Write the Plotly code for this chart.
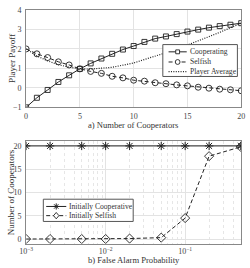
import plotly.graph_objects as go

n_coop = list(range(0, 21))
cooperating = [-1.0, -0.51, -0.11, 0.30, 0.64, 0.97, 1.25, 1.50, 1.74, 1.96, 2.14,
               2.35, 2.52, 2.63, 2.75, 2.88, 2.98, 3.08, 3.16, 3.23, 3.31]
selfish = [1.99, 1.74, 1.55, 1.33, 1.17, 0.97, 0.84, 0.74, 0.59, 0.51, 0.39,
           0.34, 0.26, 0.21, 0.15, 0.10, 0.03, -0.02, -0.07, -0.10, -0.15]
player_avg = [1.99, 1.63, 1.38, 1.18, 1.06, 0.97, 0.96, 1.01, 1.05, 1.16, 1.27,
              1.45, 1.62, 1.78, 1.97, 2.19, 2.39, 2.62, 2.84, 3.06, 3.31]

pfa = [0.001, 0.002, 0.005, 0.01, 0.02, 0.05, 0.1, 0.2, 0.5]
init_coop = [20, 20, 20, 20, 20, 20, 20, 20, 20]
init_selfish = [0, 0, 0, 0, 0.1, 0.3, 4.5, 17.8, 19.8]

legend_a = ["Cooperating", "Selfish", "Player Average"]
legend_b = ["Initially Cooperative", "Initially Selfish"]

FONT = "Liberation Serif"
LC = "#222222"
GRID = "#e3e3e3"
TXT = "#333333"
W, H = 250, 268
DASH = "4px,2.5px"
DOT = "1px,1.4px"


def px(x):
    return x / W


def py(y):
    return 1 - y / H


fig = go.Figure()
fig.add_trace(go.Scatter(x=n_coop, y=cooperating, name=legend_a[0], mode="lines+markers",
                         line=dict(color=LC, width=1, dash="solid"),
                         marker=dict(symbol="square-open", size=5, color=LC, line=dict(width=0.9)),
                         xaxis="x", yaxis="y"))
fig.add_trace(go.Scatter(x=n_coop, y=selfish, name=legend_a[1], mode="lines+markers",
                         line=dict(color=LC, width=1, dash=DASH),
                         marker=dict(symbol="circle-open", size=6, color=LC, line=dict(width=0.9)),
                         xaxis="x", yaxis="y"))
fig.add_trace(go.Scatter(x=n_coop, y=player_avg, name=legend_a[2], mode="lines",
                         line=dict(color=LC, width=1.2, dash=DOT),
                         xaxis="x", yaxis="y"))
fig.add_trace(go.Scatter(x=pfa, y=init_coop, name=legend_b[0], mode="lines+markers",
                         line=dict(color=LC, width=1, dash="solid"),
                         marker=dict(symbol="asterisk-open", size=7, color=LC, line=dict(width=1, color=LC)),
                         xaxis="x2", yaxis="y2"))
fig.add_trace(go.Scatter(x=pfa, y=init_selfish, name=legend_b[1], mode="lines+markers",
                         line=dict(color=LC, width=1, dash=DASH),
                         marker=dict(symbol="diamond-open", size=7, color=LC, line=dict(width=0.9)),
                         xaxis="x2", yaxis="y2"))

axcommon = dict(showline=True, linecolor="#888888", linewidth=1, mirror=True,
                gridcolor=GRID, gridwidth=1, zeroline=False, ticks="",
                tickfont=dict(family=FONT, size=8, color="#444444"))

fig.update_layout(
    width=W, height=H, margin=dict(l=0, r=0, t=0, b=0),
    paper_bgcolor="white", plot_bgcolor="white",
    font=dict(family=FONT, size=8, color=TXT),
    showlegend=False,
    xaxis=dict(domain=[0.08, 0.98], range=[0, 20], tickvals=[0, 5, 10, 15, 20],
               anchor="y", ticklabelstandoff=1, **axcommon),
    yaxis=dict(domain=[0.601, 0.978], range=[-1, 4], tickvals=[-1, 0, 1, 2, 3, 4],
               anchor="x", ticklabelstandoff=2, **axcommon),
    xaxis2=dict(domain=[0.08, 0.98], type="log", range=[-3, -0.295],
                tickvals=[0.001, 0.01, 0.1],
                ticktext=["10<sup>−3</sup>", "10<sup>−2</sup>", "10<sup>−1</sup>"],
                minor=dict(showgrid=True, gridcolor="#e6e6e6", griddash="dot",
                           tickvals=[0.002, 0.003, 0.004, 0.005, 0.006, 0.007, 0.008, 0.009,
                                     0.02, 0.03, 0.04, 0.05, 0.06, 0.07, 0.08, 0.09,
                                     0.2, 0.3, 0.4]),
                anchor="y2", ticklabelstandoff=0, **axcommon),
    yaxis2=dict(domain=[0.0746, 0.470], range=[-1, 21], tickvals=[0, 5, 10, 15, 20],
                anchor="x2", ticklabelstandoff=2, **axcommon),
)

shapes = []
annots = []


def legend_box(x0, y0, x1, y1):
    shapes.append(dict(type="rect", xref="paper", yref="paper", x0=px(x0), x1=px(x1),
                       y0=py(y0), y1=py(y1), fillcolor="white",
                       line=dict(color="#555555", width=1)))


def legend_line(x0, x1, y, dash, width=1):
    shapes.append(dict(type="line", xref="paper", yref="paper", x0=px(x0), x1=px(x1),
                       y0=py(y), y1=py(y), line=dict(color=LC, width=width, dash=dash)))


def legend_text(x, y, text):
    annots.append(dict(text=text, x=px(x), y=py(y), xref="paper", yref="paper",
                       xanchor="left", yanchor="middle", showarrow=False,
                       font=dict(family=FONT, size=7.6, color=TXT)))


def mk_square(x, y, r=2):
    shapes.append(dict(type="rect", xref="paper", yref="paper", x0=px(x - r), x1=px(x + r),
                       y0=py(y + r), y1=py(y - r), fillcolor="white",
                       line=dict(color=LC, width=0.9)))


def mk_circle(x, y, r=2.5):
    shapes.append(dict(type="circle", xref="paper", yref="paper", x0=px(x - r), x1=px(x + r),
                       y0=py(y + r), y1=py(y - r), fillcolor="white",
                       line=dict(color=LC, width=0.9)))


def mk_diamond(x, y, r=3.3):
    path = "M{},{} L{},{} L{},{} L{},{} Z".format(
        px(x), py(y - r), px(x + r * 0.85), py(y), px(x), py(y + r), px(x - r * 0.85), py(y))
    shapes.append(dict(type="path", xref="paper", yref="paper", path=path, fillcolor="white",
                       line=dict(color=LC, width=0.9)))


def mk_asterisk(x, y, r=3.2):
    d = r * 0.707
    for (ax, ay, bx, by) in [(x - r, y, x + r, y), (x, y - r, x, y + r),
                             (x - d, y - d, x + d, y + d), (x - d, y + d, x + d, y - d)]:
        shapes.append(dict(type="line", xref="paper", yref="paper", x0=px(ax), x1=px(bx),
                           y0=py(ay), y1=py(by), line=dict(color=LC, width=1)))


# legend a
legend_box(163, 42, 241, 75)
ya = [49.5, 60, 70]
legend_line(169, 188, ya[0], "solid")
mk_square(178.5, ya[0])
legend_line(169, 188, ya[1], DASH)
mk_circle(178.5, ya[1])
legend_line(169, 188, ya[2], DOT, 1.2)
for t, y in zip(legend_a, ya):
    legend_text(189.5, y, t)

# legend b
legend_box(38, 202, 132, 225)
yb = [209.5, 219]
legend_line(41, 62, yb[0], "solid")
mk_asterisk(51.5, yb[0])
legend_line(41, 62, yb[1], DASH)
mk_diamond(51.5, yb[1])
for t, y in zip(legend_b, yb):
    legend_text(63, y, t)

fig.update_layout(shapes=shapes)
for a in annots:
    fig.add_annotation(**a)

fig.add_annotation(text="Player Payoff", x=px(5), y=py(56), xref="paper", yref="paper",
                   xanchor="center", yanchor="middle",
                   textangle=-90, showarrow=False, font=dict(family=FONT, size=9, color=TXT))
fig.add_annotation(text="a) Number of Cooperators", x=px(132.5), y=py(125), xref="paper",
                   yref="paper", xanchor="center", yanchor="middle",
                   showarrow=False, font=dict(family=FONT, size=8.6, color=TXT))
fig.add_annotation(text="Number of Cooperators", x=px(5), y=py(195), xref="paper", yref="paper",
                   xanchor="center", yanchor="middle",
                   textangle=-90, showarrow=False, font=dict(family=FONT, size=9, color=TXT))
fig.add_annotation(text="b) False Alarm Probability", x=px(132.5), y=py(265), xref="paper",
                   yref="paper", xanchor="center", yanchor="middle",
                   showarrow=False, font=dict(family=FONT, size=8.6, color=TXT))

fig.write_html("out.html")
